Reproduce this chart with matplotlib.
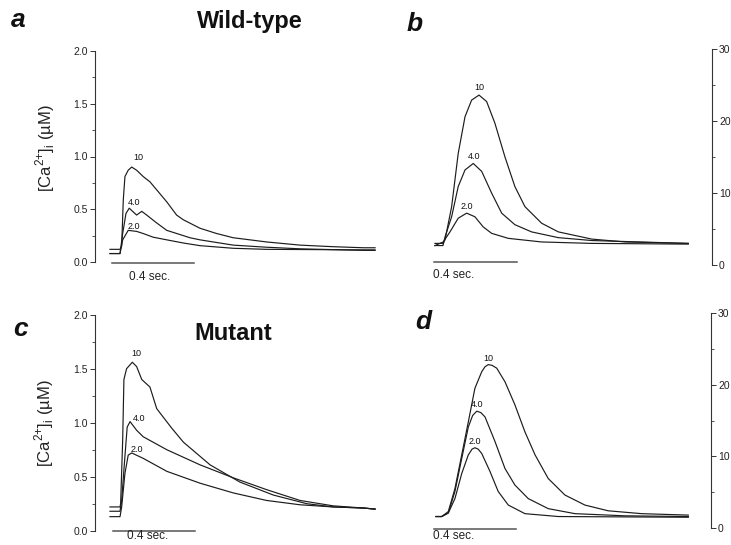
import matplotlib
matplotlib.use("Agg")
import matplotlib.pyplot as plt
from matplotlib.ticker import MultipleLocator, FormatStrFormatter

plt.rcParams['font.family'] = ['Liberation Sans', 'DejaVu Sans']
plt.rcParams['mathtext.fontset'] = 'custom'
plt.rcParams['mathtext.rm'] = 'Liberation Sans'

W, H = 731, 545
ink = '#1c1c1c'

# ---- data (time in s) ----
# a: wild-type, [Ca2+]i in uM
a10_t = [0, 0.049, 0.057, 0.065, 0.073, 0.089, 0.106, 0.130, 0.162, 0.195, 0.277,
         0.325, 0.358, 0.439, 0.520, 0.601, 0.764, 0.927, 1.089, 1.236, 1.293]
a10_v = [0.12, 0.12, 0.15, 0.59, 0.81, 0.87, 0.90, 0.87, 0.81, 0.76, 0.57,
         0.445, 0.40, 0.32, 0.27, 0.23, 0.19, 0.16, 0.145, 0.135, 0.135]
a4_t = [0, 0.049, 0.062, 0.078, 0.094, 0.130, 0.155, 0.179, 0.228, 0.277, 0.358,
        0.390, 0.439, 0.601, 0.764, 0.927, 1.236, 1.293]
a4_v = [0.08, 0.08, 0.27, 0.46, 0.51, 0.445, 0.48, 0.445, 0.37, 0.30, 0.25,
        0.23, 0.21, 0.16, 0.14, 0.125, 0.11, 0.11]
a2_t = [0, 0.049, 0.062, 0.089, 0.130, 0.162, 0.211, 0.277, 0.358, 0.439, 0.601,
        0.764, 1.236, 1.293]
a2_v = [0.08, 0.08, 0.21, 0.30, 0.29, 0.27, 0.235, 0.21, 0.18, 0.155, 0.13,
        0.12, 0.115, 0.115]

# b: wild-type, right scale 0-30
b10_t = [0, 0.039, 0.049, 0.081, 0.113, 0.146, 0.178, 0.214, 0.251, 0.291, 0.340,
         0.388, 0.437, 0.518, 0.599, 0.761, 0.922, 1.230]
b10_v = [3.0, 3.0, 3.5, 8.1, 15.5, 20.6, 22.9, 23.6, 22.7, 19.7, 15.0,
         10.9, 8.1, 5.8, 4.6, 3.6, 3.2, 3.0]
b4_t = [0, 0.039, 0.049, 0.081, 0.113, 0.146, 0.186, 0.227, 0.275, 0.324, 0.388,
        0.469, 0.599, 0.761, 1.230]
b4_v = [2.7, 2.7, 3.9, 6.7, 10.9, 13.2, 14.1, 13.0, 10.0, 7.2, 5.6,
        4.6, 3.8, 3.4, 3.0]
b2_t = [0, 0.040, 0.073, 0.113, 0.154, 0.194, 0.234, 0.275, 0.356, 0.518, 0.761, 1.230]
b2_v = [2.7, 3.2, 4.6, 6.5, 7.2, 6.7, 5.3, 4.4, 3.7, 3.2, 3.0, 2.9]

# c: mutant, [Ca2+]i in uM
c10_t = [0, 0.049, 0.052, 0.062, 0.068, 0.081, 0.109, 0.130, 0.155, 0.195, 0.228,
         0.301, 0.358, 0.488, 0.634, 0.797, 0.960, 1.089, 1.236, 1.293]
c10_v = [0.22, 0.22, 0.25, 0.84, 1.40, 1.50, 1.56, 1.52, 1.40, 1.33, 1.13,
         0.95, 0.82, 0.61, 0.45, 0.33, 0.25, 0.22, 0.21, 0.20]
c4_t = [0, 0.049, 0.057, 0.073, 0.084, 0.098, 0.130, 0.162, 0.277, 0.439, 0.601,
        0.764, 0.927, 1.089, 1.236, 1.293]
c4_v = [0.18, 0.18, 0.28, 0.69, 0.96, 1.01, 0.93, 0.87, 0.75, 0.61, 0.49,
        0.38, 0.28, 0.23, 0.21, 0.20]
c2_t = [0, 0.049, 0.057, 0.073, 0.089, 0.106, 0.162, 0.277, 0.439, 0.601, 0.764,
        0.927, 1.089, 1.236, 1.293]
c2_v = [0.13, 0.13, 0.22, 0.53, 0.70, 0.72, 0.67, 0.55, 0.44, 0.35, 0.28,
        0.24, 0.22, 0.21, 0.20]

# d: mutant, right scale 0-30
d10_t = [0, 0.028, 0.060, 0.092, 0.125, 0.157, 0.189, 0.222, 0.238, 0.254, 0.272,
         0.295, 0.335, 0.383, 0.432, 0.481, 0.545, 0.626, 0.723, 0.836, 0.999, 1.225]
d10_v = [1.6, 1.6, 2.3, 5.5, 10.2, 14.8, 19.5, 21.8, 22.5, 22.8, 22.7,
         22.3, 20.4, 17.2, 13.4, 10.2, 6.9, 4.6, 3.2, 2.4, 2.0, 1.8]
d4_t = [0, 0.028, 0.060, 0.092, 0.125, 0.157, 0.178, 0.198, 0.218, 0.238, 0.286,
        0.335, 0.383, 0.448, 0.545, 0.675, 0.917, 1.225]
d4_v = [1.6, 1.6, 2.1, 5.1, 9.7, 14.1, 15.7, 16.3, 16.1, 15.5, 12.1,
        8.3, 6.0, 4.1, 2.7, 2.0, 1.7, 1.6]
d2_t = [0, 0.028, 0.060, 0.092, 0.125, 0.157, 0.175, 0.189, 0.205, 0.222, 0.262,
        0.302, 0.351, 0.432, 0.594, 1.225]
d2_v = [1.6, 1.6, 2.1, 4.1, 7.6, 10.2, 11.0, 11.2, 11.0, 10.4, 7.9,
        5.1, 3.2, 2.0, 1.6, 1.5]

trace_names = ['10', '4.0', '2.0']
a_lab = [(0.137, 0.99), (0.117, 0.56), (0.117, 0.34)]
b_lab = [(0.214, 24.6), (0.189, 15.1), (0.154, 8.1)]
c_lab = [(0.127, 1.64), (0.143, 1.04), (0.130, 0.75)]
d_lab = [(0.252, 23.6), (0.199, 17.2), (0.189, 12.0)]

bar_len = 0.4
bar_text = '0.4 sec.'


def box(left, right, top, bottom):
    return [left / W, 1 - bottom / H, (right - left) / W, (bottom - top) / H]


fig = plt.figure(figsize=(W / 100, H / 100), dpi=100)


def panel(rect, xlim, ylim, traces, labels, side, bar, bar_lab):
    ax = fig.add_axes(rect)
    ax.set_xlim(*xlim)
    ax.set_ylim(*ylim)
    ax.patch.set_visible(False)
    for s in ['top', 'bottom', 'left', 'right']:
        ax.spines[s].set_visible(s == side)
    ax.spines[side].set_linewidth(0.8)
    ax.spines[side].set_color('#333333')
    ax.set_xticks([])
    if side == 'right':
        ax.yaxis.tick_right()
        ax.yaxis.set_major_locator(MultipleLocator(10))
        ax.yaxis.set_minor_locator(MultipleLocator(5))
        ax.yaxis.set_major_formatter(FormatStrFormatter('%d'))
    else:
        ax.yaxis.set_major_locator(MultipleLocator(0.5))
        ax.yaxis.set_minor_locator(MultipleLocator(0.25))
        ax.yaxis.set_major_formatter(FormatStrFormatter('%.1f'))
    ax.tick_params(axis='y', which='major', direction='out', length=3.5, width=0.7,
                   labelsize=7.5, pad=1.5, colors='#333333', labelcolor='#222222')
    ax.tick_params(axis='y', which='minor', direction='out', length=2, width=0.6,
                   colors='#333333')
    for (t, v), (x, y), name in zip(traces, labels, trace_names):
        ax.plot(t, v, color=ink, lw=0.85, clip_on=False)
        ax.text(x, y, name, fontsize=6.5, ha='center', va='center', color='#111111')
    x0, y0 = bar
    ax.plot([x0, x0 + bar_len], [y0, y0], color='#555555', lw=1.1, clip_on=False)
    ax.text(bar_lab[0], bar_lab[1], bar_text, fontsize=8.5, ha='center', va='center',
            color='#222222', clip_on=False)
    return ax


panel(box(95, 380, 51, 262), (-0.073, 1.317), (0, 2.0),
      [(a10_t, a10_v), (a4_t, a4_v), (a2_t, a2_v)], a_lab, 'left',
      (0.011, -0.007), (0.195, -0.142))
panel(box(430, 712, 49, 265), (-0.024, 1.345), (0, 30),
      [(b10_t, b10_v), (b4_t, b4_v), (b2_t, b2_v)], b_lab, 'right',
      (-0.003, 0.46), (0.092, -1.4))
panel(box(95, 380, 314.7, 530.7), (-0.073, 1.317), (0, 2.0),
      [(c10_t, c10_v), (c4_t, c4_v), (c2_t, c2_v)], c_lab, 'left',
      (0.015, 0.0), (0.185, -0.05))
panel(box(430, 711, 313, 528), (-0.029, 1.335), (0, 30),
      [(d10_t, d10_v), (d4_t, d4_v), (d2_t, d2_v)], d_lab, 'right',
      (-0.01, -0.14), (0.087, -1.15))

# panel letters and titles
for x, y, s in [(18, 27, 'a'), (415, 31, 'b'), (20, 336, 'c'), (423, 329, 'd')]:
    fig.text(x / W, 1 - y / H, s, fontsize=19, fontweight='bold', fontstyle='italic',
             ha='center', va='baseline', color='#111111')
fig.text(250 / W, 1 - 28 / H, 'Wild-type', fontsize=17, fontweight='bold',
         ha='center', va='baseline', color='#111111')
fig.text(233 / W, 1 - 340 / H, 'Mutant', fontsize=17, fontweight='bold',
         ha='center', va='baseline', color='#111111')

ylab = r'[Ca$^{2{+}}$]$_{\mathrm{i}}$ (µM)'
fig.text(45 / W, 1 - 148 / H, ylab, fontsize=12, rotation=90, ha='center', va='center',
         color='#222222')
fig.text(44 / W, 1 - 423 / H, ylab, fontsize=12, rotation=90, ha='center', va='center',
         color='#222222')

fig.savefig('out.png', dpi=100, facecolor='white')
